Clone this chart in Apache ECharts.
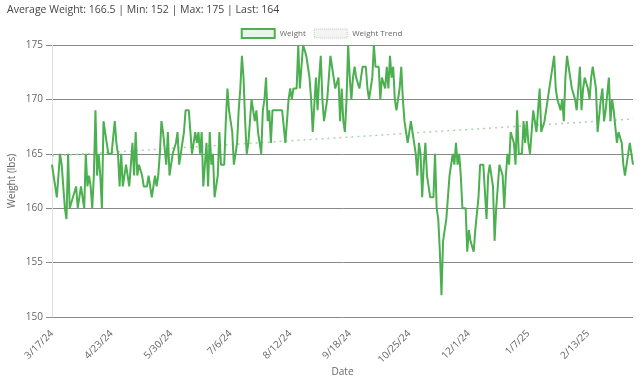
<!DOCTYPE html>
<html><head><meta charset="utf-8">
<script src="https://cdn.jsdelivr.net/npm/echarts@6/dist/echarts.min.js"></script>
<style>html,body{margin:0;padding:0;background:#fff}#c{width:643px;height:382px}</style>
</head><body><div id="c"></div>
<script>
const startDate = '2024-03-17';
const weights = [
164,163,162,161,163,165,164,162,160,159,165,160,160,161,161,162,160,161,162,161,
160,165,162,163,162,160,163,169,163,165,163,160,168,167,166,165,165,165,165,168,
166,165,162,165,162,163,164,163,162,164,166,163,167,163,164,164,163,162,162,162,
163,162,161,161,163,162,163,165,168,167,167,164,167,163,164,165,165,166,167,164,
165,166,167,169,169,169,167,165,165,167,166,167,165,167,162,162,166,162,167,164,
165,161,162,163,167,164,164,164,168,171,169,169,167,164,165,166,169,171,174,172,
168,165,166,166,170,169,168,169,167,166,165,169,170,172,168,169,166,169,169,169,
169,169,169,169,169,166,168,170,171,170,171,171,171,175,171,173,175,175,174,173,
172,170,167,167,172,169,172,174,170,168,169,170,172,174,173,172,171,171,172,168,
171,168,167,170,175,172,170,172,173,172,172,171,172,173,173,173,171,170,170,172,
175,173,173,173,170,172,172,171,173,171,174,172,173,170,169,169,171,173,170,168,
167,166,167,168,167,166,165,163,166,165,161,164,166,163,162,161,161,161,165,160,
159,156,152,157,158,159,159,163,164,165,164,166,164,165,163,160,160,160,156,158,
157,157,156,158,158,161,164,164,164,164,159,163,164,164,162,157,160,162,164,164,
163,160,163,165,164,167,167,166,164,169,165,165,165,168,166,168,166,165,167,169,
168,167,167,171,167,167,168,169,170,170,172,173,174,171,170,170,169,170,168,172,
174,173,172,171,171,170,169,171,173,169,171,172,172,171,170,172,173,172,171,167,
167,170,171,168,169,169,172,168,170,169,169,166,167,167,166,164,163,164,165,166,
165,164
];
const trendStart = 164.8;
const trendEnd = 168.2;
const yTicks = [150, 155, 160, 165, 170, 175];
const titleText = 'Average Weight: 166.5 | Min: 152 | Max: 175 | Last: 164';

const dates = [];
{
  const d0 = new Date(startDate + 'T00:00:00Z');
  for (let i = 0; i < weights.length; i++) {
    const d = new Date(d0.getTime() + i * 86400000);
    dates.push((d.getUTCMonth() + 1) + '/' + d.getUTCDate() + '/' + String(d.getUTCFullYear()).slice(2));
  }
}
const last = weights.length - 1;
const font = 'Open Sans, Noto Sans, sans-serif';
const chart = echarts.init(document.getElementById('c'));
chart.setOption({
  animation: false,
  textStyle: { fontFamily: font },
  title: { text: titleText, left: 2, top: 0, textStyle: { fontSize: 10.5, fontWeight: 'normal', color: '#444', fontFamily: font } },
  legend: {
    top: 23, left: 'center', itemWidth: 33, itemHeight: 9, itemGap: 8,
    textStyle: { fontSize: 8, color: '#666' },
    data: [
      { name: 'Weight', icon: 'rect', itemStyle: { color: 'rgba(76,175,80,0.12)', borderColor: '#4caf50', borderWidth: 2 } },
      { name: 'Weight Trend', icon: 'rect', itemStyle: { color: 'rgba(200,200,200,0.2)', borderColor: 'rgba(160,200,160,0.8)', borderWidth: 1, borderType: 'dotted' } }
    ]
  },
  grid: { left: 52, right: 10, top: 45, bottom: 65, outerBoundsMode: 'none', containLabel: false },
  xAxis: {
    type: 'category', data: dates, boundaryGap: false,
    name: 'Date', nameLocation: 'middle', nameGap: 50, nameMoveOverlap: false, nameTextStyle: { fontSize: 10, color: '#666' },
    axisLine: { show: false }, axisTick: { show: false },
    axisLabel: { interval: 36, rotate: 45, fontSize: 10, color: '#666', margin: 15 },
    splitLine: { show: false }
  },
  yAxis: {
    type: 'value', min: yTicks[0], max: yTicks[yTicks.length - 1], interval: 5,
    name: 'Weight (lbs)', nameLocation: 'middle', nameGap: 35, nameMoveOverlap: false, nameTextStyle: { fontSize: 10, color: '#666' },
    axisLine: { show: true, lineStyle: { color: '#e0e0e0' } },
    axisTick: { show: true, length: 6, lineStyle: { color: '#888' } },
    axisLabel: { fontSize: 10, color: '#666', margin: 9 },
    splitLine: { lineStyle: { color: '#888', width: 1 } }
  },
  series: [
    { name: 'Weight Trend', type: 'line', showSymbol: false, z: 1,
      data: [[0, trendStart], [last, trendEnd]],
      lineStyle: { color: 'rgba(160,210,160,0.9)', width: 1.5, type: [2, 4] },
      itemStyle: { color: 'rgba(160,210,160,0.9)' } },
    { name: 'Weight', type: 'line', showSymbol: false, z: 2, data: weights,
      lineStyle: { color: '#4caf50', width: 2 }, itemStyle: { color: '#4caf50' } }
  ]
});
</script></body></html>
